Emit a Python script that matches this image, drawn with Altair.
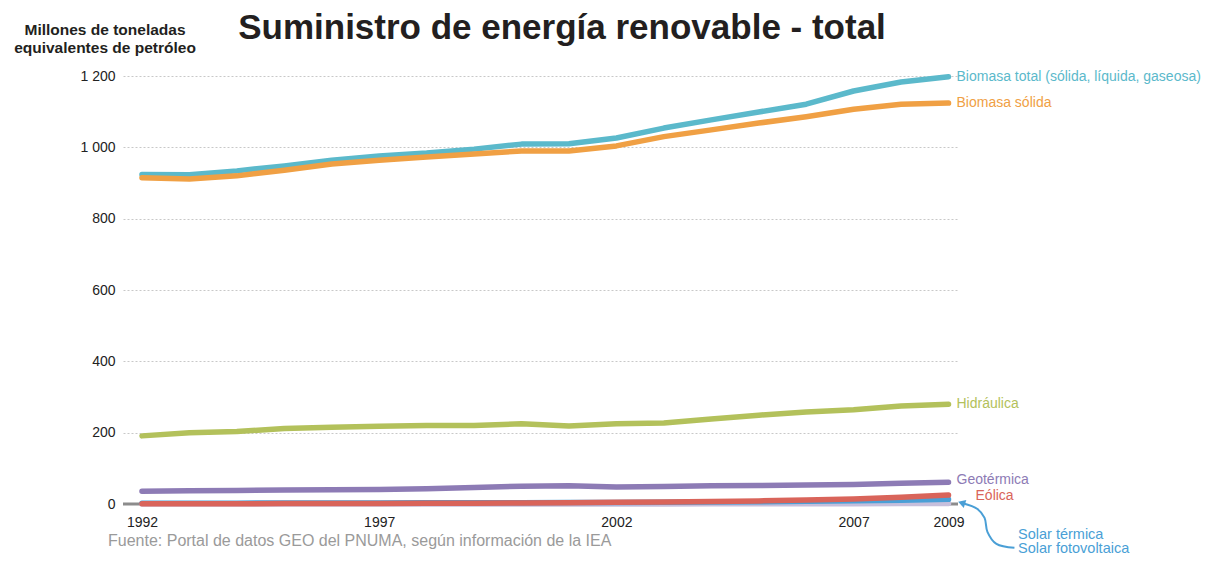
import altair as alt
import pandas as pd

# ---------------- data ----------------
years = list(range(1992, 2010))
biomasa_total = [924, 923, 934, 948, 964, 976, 984, 995, 1009, 1010, 1026, 1054, 1077, 1099, 1121, 1158, 1183, 1198]
biomasa_solida = [915, 911, 920, 936, 953, 964, 973, 981, 990, 990, 1004, 1030, 1049, 1068, 1086, 1107, 1121, 1124]
hidraulica = [191, 200, 203, 212, 215, 218, 220, 220, 225, 219, 225, 227, 238, 249, 258, 264, 275, 280]
geotermica = [36, 37, 38, 39, 40, 41, 43, 46, 50, 51, 48, 49, 51, 52, 53, 55, 58, 61]
eolica = [0.8, 0.9, 1.0, 1.1, 1.3, 1.5, 1.8, 2.2, 2.8, 3.4, 4.6, 5.5, 7.3, 8.6, 11.4, 14.3, 19.0, 25.0]
solar_termica = [2.2, 2.3, 2.4, 2.6, 2.8, 3.0, 3.2, 3.4, 3.7, 4.0, 4.5, 5.0, 5.6, 6.5, 7.6, 9.0, 10.8, 13.0]
solar_fotovoltaica = [0.1, 0.1, 0.1, 0.1, 0.1, 0.1, 0.1, 0.2, 0.2, 0.2, 0.3, 0.3, 0.4, 0.5, 0.6, 0.8, 1.2, 1.7]

series_names = ["Solar fotovoltaica", "Solar térmica", "Eólica", "Geotérmica", "Hidráulica",
                "Biomasa total (sólida, líquida, gaseosa)", "Biomasa sólida"]
series_colors = ["#c6bfdc", "#4a9fd6", "#d9645a", "#8d7bb5", "#b3c15b", "#5bb9cb", "#f0a044"]
series_values = [solar_fotovoltaica, solar_termica, eolica, geotermica, hidraulica,
                 biomasa_total, biomasa_solida]

x_ticks = [1992, 1997, 2002, 2007, 2009]
y_ticks = [0, 200, 400, 600, 800, 1000, 1200]

title_text = "Suministro de energía renovable - total"
y_title_lines = ["Millones de toneladas", "equivalentes de petróleo"]
source_text = "Fuente: Portal de datos GEO del PNUMA, según información de la IEA"
solar_label_lines = ["Solar térmica", "Solar fotovoltaica"]

# annotation arrow path (year, value) from the solar labels to the line ends
arrow_x = [2010.39, 2010.01, 2009.82, 2009.76, 2009.61, 2009.30]
arrow_y = [-123, -112, -78, -39, -14, 2]

FONT = "Liberation Sans"
W, H = 835, 428

x_scale = alt.Scale(domain=[1991.6, 2009.2], nice=False, zero=False)
y_scale = alt.Scale(domain=[0, 1200], nice=False)

AX_X = alt.Axis(values=x_ticks, format="d", grid=False, domain=False, ticks=False,
                labelFontSize=14, labelColor="#222222", labelFont=FONT,
                labelPadding=11, title=None)
AX_Y = alt.Axis(values=y_ticks, grid=True, gridColor="#c8c8c8", gridDash=[2, 2], gridWidth=1,
                domain=False, ticks=False, labelFontSize=14, labelColor="#222222", labelFont=FONT,
                labelPadding=8, title=None,
                labelExpr="replace(format(datum.value, ','), ',', ' ')")


def X(field):
    return alt.X(field, scale=x_scale, axis=AX_X)


def Y(field):
    return alt.Y(field, scale=y_scale, axis=AX_Y)


layers = []

# baseline at zero
base_df = pd.DataFrame({"year": [1991.6, 2009.2], "v": [0, 0]})
layers.append(
    alt.Chart(base_df).mark_line(color="#8c8c8c", strokeWidth=3).encode(
        x=X("year:Q"), y=Y("v:Q"))
)

# lines, one layer per series (drawing order matters)
for name, vals, col in zip(series_names, series_values, series_colors):
    sdf = pd.DataFrame({"year": years, "value": vals})
    layers.append(
        alt.Chart(sdf).mark_line(strokeWidth=5.5, strokeCap="round", strokeJoin="round",
                                 interpolate="linear", color=col).encode(
            x=X("year:Q"), y=Y("value:Q"))
    )

# end labels
lab_names = ["Biomasa total (sólida, líquida, gaseosa)", "Biomasa sólida", "Hidráulica"]
lab_df = pd.DataFrame({
    "name": lab_names,
    "year": [years[-1]] * len(lab_names),
    "value": [series_values[series_names.index(n)][-1] for n in lab_names],
    "color": [series_colors[series_names.index(n)] for n in lab_names],
})
layers.append(
    alt.Chart(lab_df).mark_text(align="left", baseline="middle", dx=8, fontSize=14, font=FONT).encode(
        x=X("year:Q"), y=Y("value:Q"),
        text="name:N",
        color=alt.Color("color:N", scale=None, legend=None),
    )
)
geo_df = pd.DataFrame({"name": ["Geotérmica"], "year": [years[-1]], "value": [geotermica[-1]]})
layers.append(
    alt.Chart(geo_df).mark_text(align="left", baseline="middle", dx=8, dy=-2, fontSize=14, font=FONT,
                                color=series_colors[3]).encode(
        x=X("year:Q"), y=Y("value:Q"), text="name:N")
)
eol_df = pd.DataFrame({"name": ["Eólica"], "year": [years[-1]], "value": [eolica[-1]]})
layers.append(
    alt.Chart(eol_df).mark_text(align="left", baseline="middle", dx=27, dy=1, fontSize=14, font=FONT,
                                color=series_colors[2]).encode(
        x=X("year:Q"), y=Y("value:Q"), text="name:N")
)

# arrow
arrow_df = pd.DataFrame({"year": arrow_x, "value": arrow_y, "i": list(range(len(arrow_x)))})
layers.append(
    alt.Chart(arrow_df).mark_line(color="#4a9fd6", strokeWidth=2, interpolate="catmull-rom").encode(
        x=X("year:Q"), y=Y("value:Q"), order="i:Q")
)
head_df = pd.DataFrame({"year": [arrow_x[-1]], "value": [arrow_y[-1]]})
layers.append(
    alt.Chart(head_df).mark_point(shape="triangle", filled=True, size=70, angle=288,
                                  color="#4a9fd6", opacity=1).encode(
        x=X("year:Q"), y=Y("value:Q"))
)


# fixed-position texts (pixel offsets relative to the plot area)
def fixed_text(text, x, y, **kw):
    d = pd.DataFrame({"t": [text]})
    return alt.Chart(d).mark_text(font=FONT, **kw).encode(
        x=alt.value(x), y=alt.value(y), text="t:N")


for t, yy in zip(solar_label_lines, [459, 473]):
    layers.append(fixed_text(t, 895, yy, align="left", baseline="middle", fontSize=14.5, color="#4a9fd6"))

layers.append(fixed_text(title_text, 439, -48, align="center", baseline="middle", fontSize=35,
                         fontWeight="bold", color="#231f20"))

for t, yy in zip(y_title_lines, [-46, -28]):
    layers.append(fixed_text(t, -18, yy, align="center", baseline="middle", fontSize=15.5,
                             fontWeight="bold", color="#231f20"))

layers.append(fixed_text(source_text, -15, 465, align="left", baseline="middle", fontSize=16,
                         color="#9a9a9a"))

chart = alt.layer(*layers).properties(
    width=W, height=H,
    background="white",
    autosize=alt.AutoSizeParams(type="none"),
    padding={"left": 115, "top": 68, "right": 246, "bottom": 51},
).configure_view(stroke=None)

chart.save("out.html", embed_options={"renderer": "svg", "actions": False})
